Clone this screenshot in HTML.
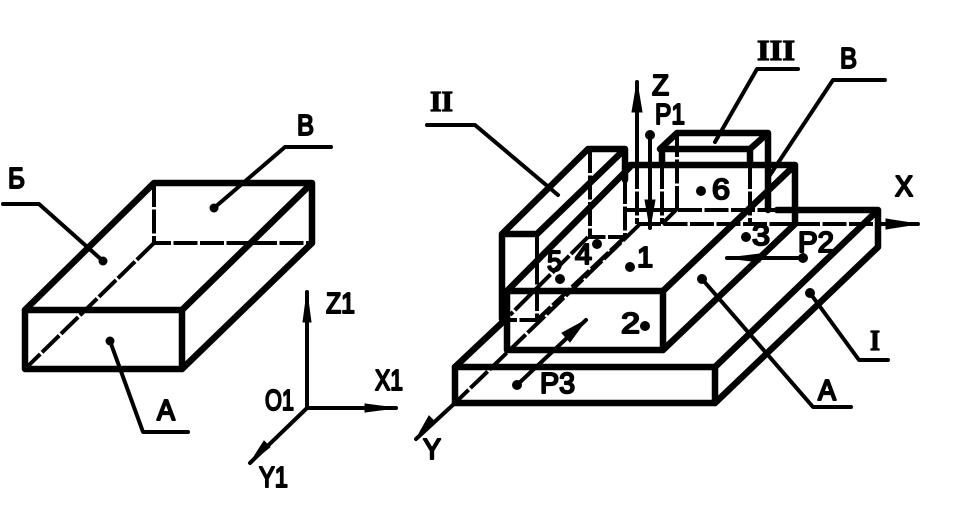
<!DOCTYPE html>
<html><head><meta charset="utf-8">
<style>
html,body{margin:0;padding:0;background:#fff;width:957px;height:522px;overflow:hidden}
svg{display:block}
text{font-family:"Liberation Sans",sans-serif;font-size:29px;font-weight:normal;fill:#000;stroke:#000;stroke-width:2px;stroke-linejoin:round}
.s{font-family:"Liberation Serif",serif;font-weight:bold;stroke-width:1.2px}
.t{stroke:#000;stroke-width:6.5;fill:none;stroke-linecap:round;stroke-linejoin:round}
.m{stroke:#000;stroke-width:4;fill:none;stroke-linecap:round;stroke-linejoin:round}
.d{stroke:#000;stroke-width:4;fill:none;stroke-dasharray:24 2.5}
circle{fill:#000}
</style></head><body>
<svg width="957" height="522" viewBox="0 0 957 522">
<!-- left box -->
<g class="t">
<path d="M25 310H182V369H25Z"/>
<path d="M25 310L154 183H312V243L182 369M182 310L312 183"/>
</g>
<g class="d">
<path d="M154 183V243H312M154 243L25 369"/>
</g>
<g class="m">
<path d="M214 208L285 147H331M3 204H39L103 261M110 341L143 432H188"/>
<path d="M307 292V408H396M307 408L250 463"/>
</g>
<path d="M307 292L311 322H303ZM396 408L365 404V412ZM250 463L270 447L264 441Z" fill="#000" stroke="#000"/>
<g fill="#000"><circle cx="214" cy="208" r="4.5"/><circle cx="103" cy="261" r="4.5"/><circle cx="110" cy="341" r="4.5"/></g>

<!-- right: plate -->
<g class="t">
<path d="M455 367H715V403H455Z"/>
<path d="M455 367L507 318M715 367L878 210V247L715 403M777 210H878"/>
<!-- box A -->
<path d="M507 291H663V350H507Z"/>
<path d="M507 291L630 167M630 165H795V224L663 350M663 291L795 165"/>
<!-- box II -->
<path d="M502 319V234H537M502 234L588 149H625V180M537 234L625 149"/>
<!-- box III -->
<path d="M662 165V149H750M660 149L677 133H768V210M750 149L768 133"/>
<path d="M750 149V165"/>
</g>
<g class="d">
<path d="M625 210H777M637 224H885"/>
<path d="M640 224L455 403"/>
<path d="M537 234V320H510M590 149V237H625M625 180V237L537 320M588 237L510 315"/>
<path d="M662 165V224M677 133V210M750 165V224M677 209L662 224"/>
<path d="M637 165V224"/>
</g>
<g class="m">
<path d="M637 82V165M885 224H918M455 403L416 439"/>
<path d="M650 135V228M803 258H727M517 385L586 320"/>
<path d="M427 125H475L558 195M798 69H757L715 142M885 80H833L770 175"/>
<path d="M810 293L859 360H888M702 279L813 407H851"/>
</g>
<path d="M637 82L642 112H632ZM918 224L886 219V229ZM416 439L435 422L429 416ZM650 228L645 200H655ZM727 258L760 254V262ZM586 320L562 333L570 342Z" fill="#000" stroke="#000"/>
<g><circle cx="650" cy="135" r="5"/><circle cx="803" cy="258" r="5"/><circle cx="517" cy="385" r="5"/>
<circle cx="810" cy="293" r="5"/><circle cx="702" cy="279" r="5"/>
<circle cx="630" cy="267" r="5"/><circle cx="645" cy="326" r="5"/><circle cx="746" cy="237" r="5"/><circle cx="597" cy="244" r="5"/><circle cx="560" cy="279" r="5"/><circle cx="701" cy="191" r="5"/></g>

<!-- labels left -->
<text x="8" y="188" textLength="17" lengthAdjust="spacingAndGlyphs">Б</text>
<text x="297" y="135" textLength="17" lengthAdjust="spacingAndGlyphs">В</text>
<text x="157" y="420" textLength="18" lengthAdjust="spacingAndGlyphs">А</text>
<text x="326" y="313" textLength="29" lengthAdjust="spacingAndGlyphs">Z1</text>
<text x="375" y="390" textLength="28" lengthAdjust="spacingAndGlyphs">X1</text>
<text x="265" y="410" textLength="29" lengthAdjust="spacingAndGlyphs">O1</text>
<text x="259" y="487" textLength="29" lengthAdjust="spacingAndGlyphs">Y1</text>
<!-- labels right -->
<text x="652" y="95" textLength="17" lengthAdjust="spacingAndGlyphs">Z</text>
<text x="655" y="124" textLength="30" lengthAdjust="spacingAndGlyphs">P1</text>
<text class="s" x="757" y="60" textLength="38" lengthAdjust="spacingAndGlyphs">III</text>
<text x="840" y="68" textLength="17" lengthAdjust="spacingAndGlyphs">В</text>
<text x="895" y="196" textLength="18" lengthAdjust="spacingAndGlyphs">X</text>
<text class="s" x="430" y="111" textLength="23" lengthAdjust="spacingAndGlyphs">II</text>
<text x="712" y="199" textLength="18" lengthAdjust="spacingAndGlyphs">6</text>
<text x="547" y="271" textLength="15" lengthAdjust="spacingAndGlyphs">5</text>
<text x="575" y="264" textLength="17" lengthAdjust="spacingAndGlyphs">4</text>
<text x="637" y="267">1</text>
<text x="621" y="333" textLength="19" lengthAdjust="spacingAndGlyphs">2</text>
<text x="752" y="245" textLength="18" lengthAdjust="spacingAndGlyphs">3</text>
<text x="798" y="252" textLength="36" lengthAdjust="spacingAndGlyphs">P2</text>
<text x="540" y="393" textLength="35" lengthAdjust="spacingAndGlyphs">P3</text>
<text x="423" y="459" textLength="18" lengthAdjust="spacingAndGlyphs">Y</text>
<text class="s" x="870" y="350" textLength="10" lengthAdjust="spacingAndGlyphs">I</text>
<text x="818" y="400" textLength="18" lengthAdjust="spacingAndGlyphs">А</text>
</svg>
</body></html>
